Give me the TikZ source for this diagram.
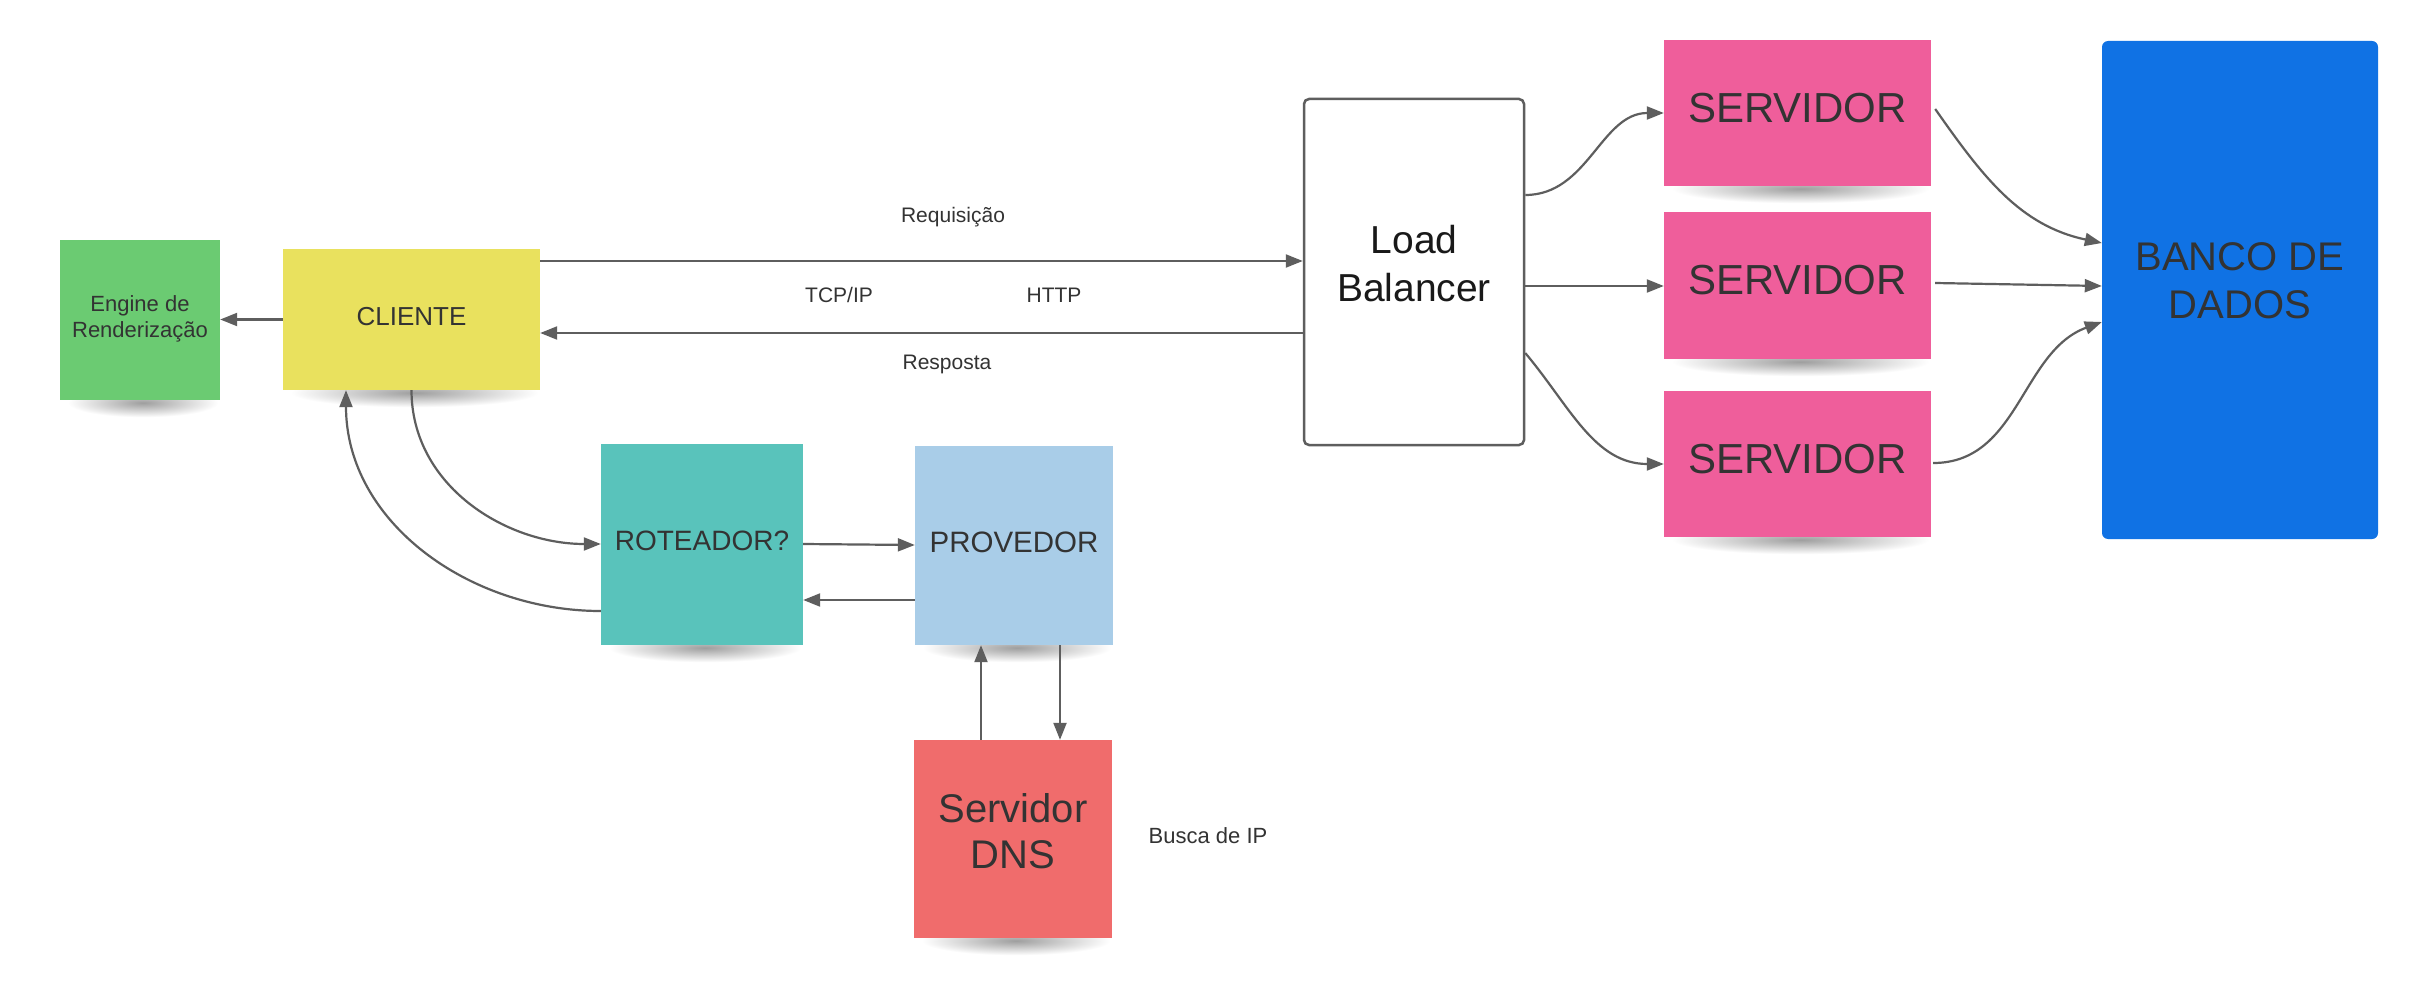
\documentclass[tikz,border=0pt]{standalone}
\usepackage{fontspec}
\setmainfont{Liberation Sans}
\usetikzlibrary{arrows.meta,backgrounds}
\definecolor{cgreen}{RGB}{107,203,114}
\definecolor{cyellow}{RGB}{233,225,94}
\definecolor{cteal}{RGB}{89,195,187}
\definecolor{clblue}{RGB}{169,205,232}
\definecolor{cred}{RGB}{240,108,108}
\definecolor{cpink}{RGB}{239,94,155}
\definecolor{cdb}{RGB}{16,114,228}
\definecolor{lineg}{RGB}{94,94,94}
\definecolor{txt}{RGB}{51,51,51}
\newcommand\myfs[2]{\fontsize{#1}{#2}\selectfont}
\newcommand\nshadow[1]{\shade[inner color=black!38, outer color=white] ([xshift=8pt,yshift=12pt]#1.south west) rectangle ([xshift=-2pt,yshift=-17pt]#1.south east);}
\begin{document}
\begin{tikzpicture}[x=1pt,y=-1pt,
  note/.style={draw=none, inner sep=0pt},
  ntext/.style={inner sep=0pt, align=center, text=txt},
  conn/.style={draw=lineg, line width=2.2pt, -{Triangle[length=17pt,width=13pt]}},
  lbl/.style={text=txt, inner sep=0pt, font=\myfs{21}{25}}]
\useasboundingbox (0,0) rectangle (2416,1003);

% sticky notes
\node[note, fill=cgreen, minimum width=160pt, minimum height=160pt] (eng) at (140,320) {};
\node[note, fill=cyellow, minimum width=257pt, minimum height=141pt] (cli) at (411.5,319.5) {};
\node[note, fill=cteal, minimum width=202pt, minimum height=201pt] (rot) at (702,544.5) {};
\node[note, fill=clblue, minimum width=198pt, minimum height=199pt] (prov) at (1014,545.5) {};
\node[note, fill=cred, minimum width=198pt, minimum height=198pt] (dns) at (1013,839) {};
\node[note, fill=cpink, minimum width=267pt, minimum height=146pt] (s1) at (1797.5,113) {};
\node[note, fill=cpink, minimum width=267pt, minimum height=147pt] (s2) at (1797.5,285.5) {};
\node[note, fill=cpink, minimum width=267pt, minimum height=146pt] (s3) at (1797.5,464) {};

% load balancer and database
\node[draw=lineg, line width=2.5pt, rounded corners=5pt, fill=white, inner sep=0pt,
      minimum width=220pt, minimum height=346pt] (lb) at (1414,272) {};
\node[fill=cdb, rounded corners=6pt, inner sep=0pt,
      minimum width=276pt, minimum height=498pt] (db) at (2240,290) {};

% texts of the boxes
\node[ntext, font=\myfs{22}{26.5}] (engt) at ([yshift=1pt]eng.center) {Engine de\\Renderização};
\node[ntext, font=\myfs{26}{31}] (clit) at ([yshift=2.5pt]cli.center) {CLIENTE};
\node[ntext, font=\myfs{28}{33}] (rott) at ([yshift=3.5pt]rot.center) {ROTEADOR?};
\node[ntext, font=\myfs{29.5}{34}] (provt) at ([yshift=3.5pt]prov.center) {PROVEDOR};
\node[ntext, font=\myfs{40}{46}] (dnst) at ([yshift=8pt]dns.center) {Servidor\\DNS};
\node[ntext, font=\myfs{42}{48}] (s1t) at ([yshift=5pt]s1.center) {SERVIDOR};
\node[ntext, font=\myfs{42}{48}] (s2t) at ([yshift=5pt]s2.center) {SERVIDOR};
\node[ntext, font=\myfs{42}{48}] (s3t) at ([yshift=5pt]s3.center) {SERVIDOR};
\node[ntext, text=black!90, font=\myfs{39}{48}] (lbt) at ([yshift=8pt]lb.center) {Load\\Balancer};
\node[ntext, font=\myfs{40}{48}] (dbt) at ([yshift=9pt]db.center) {BANCO DE\\DADOS};

% labels
\node[lbl] (lreq) at (953,217) {Requisição};
\node[lbl] (ltcp) at (839,295) {TCP/IP};
\node[lbl] (lhttp) at (1054,295) {HTTP};
\node[lbl] (lresp) at (947,364) {Resposta};
\node[lbl, font=\myfs{22}{26}] (lbusca) at (1208,836) {Busca de IP};

% shadows and background
\begin{pgfonlayer}{background}
  \fill[white] (0,0) rectangle (2416,1003);
  \nshadow{eng}
  \nshadow{cli}
  \nshadow{rot}
  \nshadow{prov}
  \nshadow{dns}
  \nshadow{s1}
  \nshadow{s2}
  \nshadow{s3}
\end{pgfonlayer}

% connectors
\draw[conn] (cli.west) -- (eng.east |- cli.west);
\draw[conn] (cli.east |- 0,261) -- (lb.west |- 0,261);
\draw[conn] (lb.west |- 0,333) -- (cli.east |- 0,333);

\draw[conn] (lb.east |- 0,195) to[out=0,in=180] (s1.west |- 0,113);
\draw[conn] (lb.east |- 0,286) -- (s2.west |- 0,286);
\draw[conn] (lb.east |- 0,353) to[out=-50,in=180] (s3.west |- 0,464);

\draw[conn] ([xshift=4pt]s1.east |- 0,109) to[out=-55,in=168] (db.west |- 0,243);
\draw[conn] ([xshift=4pt]s2.east |- 0,283) -- (db.west |- 0,286);
\draw[conn] ([xshift=2pt]s3.east |- 0,463) to[out=0,in=200] (db.west |- 0,322);

\draw[conn] (cli.south) to[out=-90,in=180] (rot.west |- 0,544);
\draw[conn] (rot.west |- 0,611) to[out=180,in=-90] (cli.south -| 346,0);
\draw[conn] (rot.east |- 0,544) -- (prov.west |- 0,545);
\draw[conn] (prov.west |- 0,600) -- (rot.east |- 0,600);
\draw[conn] (dns.north -| 981,0) -- (prov.south -| 981,0);
\draw[conn] (prov.south -| 1060,0) -- (dns.north -| 1060,0);
\end{tikzpicture}
\end{document}
